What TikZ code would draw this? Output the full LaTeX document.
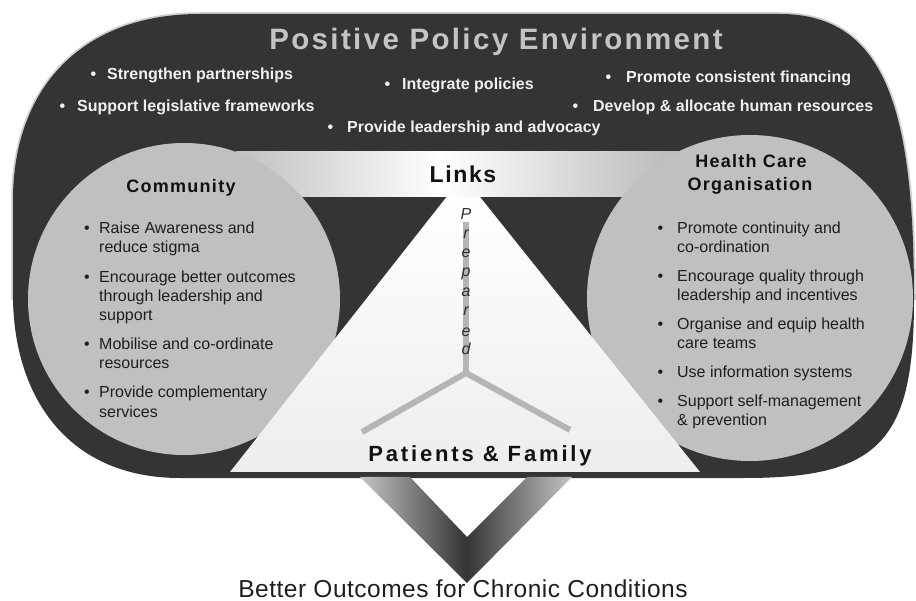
\documentclass[tikz,border=0pt]{standalone}
\usepackage{fontspec}
\setmainfont{Liberation Sans}
\newfontfamily\titlefont[LetterSpace=8]{Liberation Sans}
\newfontfamily\headfont[LetterSpace=7]{Liberation Sans}
\newfontfamily\pffont[LetterSpace=13]{Liberation Sans}
\newfontfamily\bofont[LetterSpace=2]{Liberation Sans}
\definecolor{darkbg}{HTML}{343434}
\definecolor{halo}{HTML}{CDCDCD}
\definecolor{circ}{HTML}{C0C0C0}
\definecolor{titlegray}{HTML}{C4C4C4}
\definecolor{wtext}{HTML}{F0F0F0}
\definecolor{ctext}{HTML}{1E1E1E}
\definecolor{headtext}{HTML}{111111}
\definecolor{preptext}{HTML}{2E2E2E}
\definecolor{ystem}{HTML}{B5B5B5}
\definecolor{vlight}{HTML}{C4C4C4}
\definecolor{vdark}{HTML}{353535}
\definecolor{barL}{HTML}{C0C0C0}
\definecolor{barR}{HTML}{B8B8B8}
\pgfdeclarehorizontalshading{barshade}{100bp}{color(0bp)=(barL); color(25bp)=(barL); color(48bp)=(white); color(75bp)=(barR); color(100bp)=(barR)}
\pgfdeclarehorizontalshading{vshade}{100bp}{color(0bp)=(vlight); color(25bp)=(vlight); color(50bp)=(vdark); color(75bp)=(vlight); color(100bp)=(vlight)}
\tikzset{
  dkitem/.style={anchor=base west, inner sep=0pt, text=wtext, font=\fontsize{16}{19}\selectfont\bfseries},
  citem/.style={anchor=base west, inner sep=0pt, text=ctext, font=\fontsize{16}{19}\selectfont},
  headtxt/.style={anchor=base, inner sep=0pt, text=headtext, font=\headfont\fontsize{18}{22}\selectfont\bfseries},
  preplet/.style={anchor=base, inner sep=0pt, text=preptext, font=\fontsize{16}{19}\selectfont\itshape},
  ybranch/.style={draw=ystem, line width=6pt, line cap=butt, line join=miter}
}
\begin{document}
\begin{tikzpicture}[x=1pt,y=-1pt]
\useasboundingbox (0,0) rectangle (916,601);
% halo on upper edge
\draw[halo, line width=3.5pt] (13,300) -- (13,200) .. controls (13,90) and (80,14) .. (200,14) -- (780,14) .. controls (890,14) and (914,120) .. (914,300);
% dark environment shape
\fill[darkbg] (200,14) -- (780,14) .. controls (890,14) and (914,120) .. (914,300)
  .. controls (914,440) and (880,478) .. (745,478) -- (180,478)
  .. controls (70,478) and (15,400) .. (13,300) -- (13,200)
  .. controls (13,90) and (80,14) .. (200,14) -- cycle;
% links bar
\shade[shading=barshade] (236,152) rectangle (682,197);
% circles
\fill[circ] (184,299) circle[radius=156];
\fill[circ] (750,298) circle[radius=163];
% triangle (apex hidden by bar)
\shade[top color=white, bottom color=white!93!black] (446.5,197) -- (480,197) -- (700,472) -- (230,472) -- cycle;
% Y of Prepared
\coordinate (ytop) at (466,222);
\coordinate (yjoin) at (466,373);
\coordinate (yleft) at (362,432);
\coordinate (yright) at (570,430);
\draw[ybranch] (ytop) -- (yjoin);
\draw[ybranch] (yleft) -- (yjoin) -- (yright);
% V arrow
\shade[shading=vshade] (360,477) -- (467,583) -- (572,477) -- (527,477) -- (467,537) -- (410,477) -- cycle;
% title
\node[anchor=base, inner sep=0pt, text=titlegray, font=\titlefont\fontsize{29.5}{34}\selectfont\bfseries] (title) at (496,50) {Positive Policy Environment};
% policy bullets
\foreach \x/\y/\g/\t [count=\i] in {
  107/80/11pt/Strengthen partnerships,
  77/112/12pt/Support legislative frameworks,
  402/90/12pt/Integrate policies,
  347/133/14pt/Provide leadership and advocacy,
  626/83/15pt/Promote consistent financing,
  593/112/15pt/Develop \& allocate human resources}
  \node[dkitem] (pol\i) at (\x,\y) {\llap{\textbullet\hspace{\g}}\t};
% community
\node[headtxt] (comm) at (181,193) {Community};
\foreach \y/\b/\t [count=\i] in {
  234/1/Raise Awareness and, 253/0/reduce stigma,
  283/1/Encourage better outcomes, 302/0/through leadership and, 321/0/support,
  350/1/Mobilise and co-ordinate, 369/0/resources,
  398/1/Provide complementary, 418/0/services}
  \node[citem] (cm\i) at (99,\y) {\ifnum\b=1 \llap{\textbullet\hspace{9.5pt}}\fi\t};
% health care organisation
\node[headtxt] (hc1) at (751,168) {Health Care};
\node[headtxt] (hc2) at (750,191) {Organisation};
\foreach \y/\b/\t [count=\i] in {
  234/1/Promote continuity and, 253/0/co-ordination,
  282/1/Encourage quality through, 301/0/leadership and incentives,
  330/1/Organise and equip health, 349/0/care teams,
  378/1/Use information systems,
  407/1/Support self-management, 426/0/\& prevention}
  \node[citem] (ho\i) at (677,\y) {\ifnum\b=1 \llap{\textbullet\hspace{14pt}}\fi\t};
% links
\node[anchor=base, inner sep=0pt, text=headtext, font=\headfont\fontsize{23}{27}\selectfont\bfseries] (links) at (463,183) {Links};
% prepared
\foreach \c/\y [count=\i] in {P/220,r/239,e/258,p/277,a/297,r/316,e/337,d/355}
  \node[preplet] (pr\i) at (466,\y) {\c};
% patients
\node[anchor=base, inner sep=0pt, text=headtext, font=\pffont\fontsize{22}{26}\selectfont\bfseries] (pat) at (480,462) {Patients \& Family};
% outcomes
\node[anchor=base, inner sep=0pt, text=ctext, font=\bofont\fontsize{24.5}{29}\selectfont] (out) at (463,597) {Better Outcomes for Chronic Conditions};
\end{tikzpicture}
\end{document}
